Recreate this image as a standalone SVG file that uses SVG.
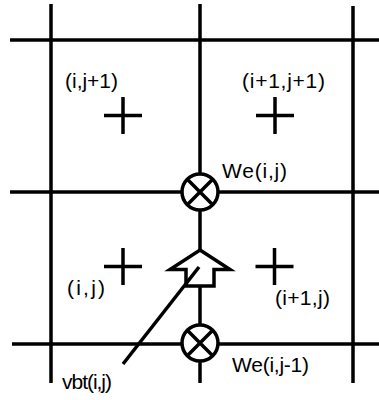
<svg xmlns="http://www.w3.org/2000/svg" width="379" height="400" viewBox="0 0 379 400">
<style>
.ln{stroke:#000;stroke-width:3.5;fill:none;stroke-linecap:butt}
.sym{stroke:#000;stroke-width:3.5;fill:#fff}
.t{font-family:"Liberation Sans",Arial,Helvetica,sans-serif;font-size:21px;fill:#000}
</style>
<defs>
<g id="plus"><path class="ln" d="M-19 0H19M0 -18.5V18.5"/></g>
<g id="otimes"><circle class="sym" cx="0" cy="0" r="18"/><path class="ln" d="M-12.7 -12.7L12.7 12.7M12.7 -12.7L-12.7 12.7"/></g>
</defs>
<g id="grid">
<path class="ln" d="M51 4V383M200 4V383M353 6V383M10 40H379M10 192H379M12 344H379"/>
</g>
<g id="connectors">
<path class="ln" d="M199 267L123 364"/>
</g>
<g id="cell-i-j1"><use href="#plus" x="123" y="115.5"/><text class="t" x="65" y="88" textLength="53" lengthAdjust="spacing">(i,j+1)</text></g>
<g id="cell-i1-j1"><use href="#plus" x="275" y="115.5"/><text class="t" x="242" y="88" textLength="83" lengthAdjust="spacing">(i+1,j+1)</text></g>
<g id="cell-i-j"><use href="#plus" x="123" y="266.5"/><text class="t" x="67" y="295" textLength="38" lengthAdjust="spacing">(i,j)</text></g>
<g id="cell-i1-j"><use href="#plus" x="274.5" y="266.5"/><text class="t" x="275" y="305" textLength="55" lengthAdjust="spacing">(i+1,j)</text></g>
<g id="we-ij"><use href="#otimes" x="200" y="192"/><text class="t" x="222" y="178" textLength="65" lengthAdjust="spacing">We(i,j)</text></g>
<g id="we-ij-1"><use href="#otimes" x="200" y="343"/><text class="t" x="232" y="372" textLength="77" lengthAdjust="spacing">We(i,j-1)</text></g>
<g id="vbt"><polygon class="sym" stroke-linejoin="miter" points="200,250 230,269.5 214,269.5 214,286 186,286 186,269.5 170,269.5"/><path class="ln" d="M199 267L186 283.6"/><text class="t" x="62" y="389" textLength="50" lengthAdjust="spacing">vbt(i,j)</text></g>
</svg>
